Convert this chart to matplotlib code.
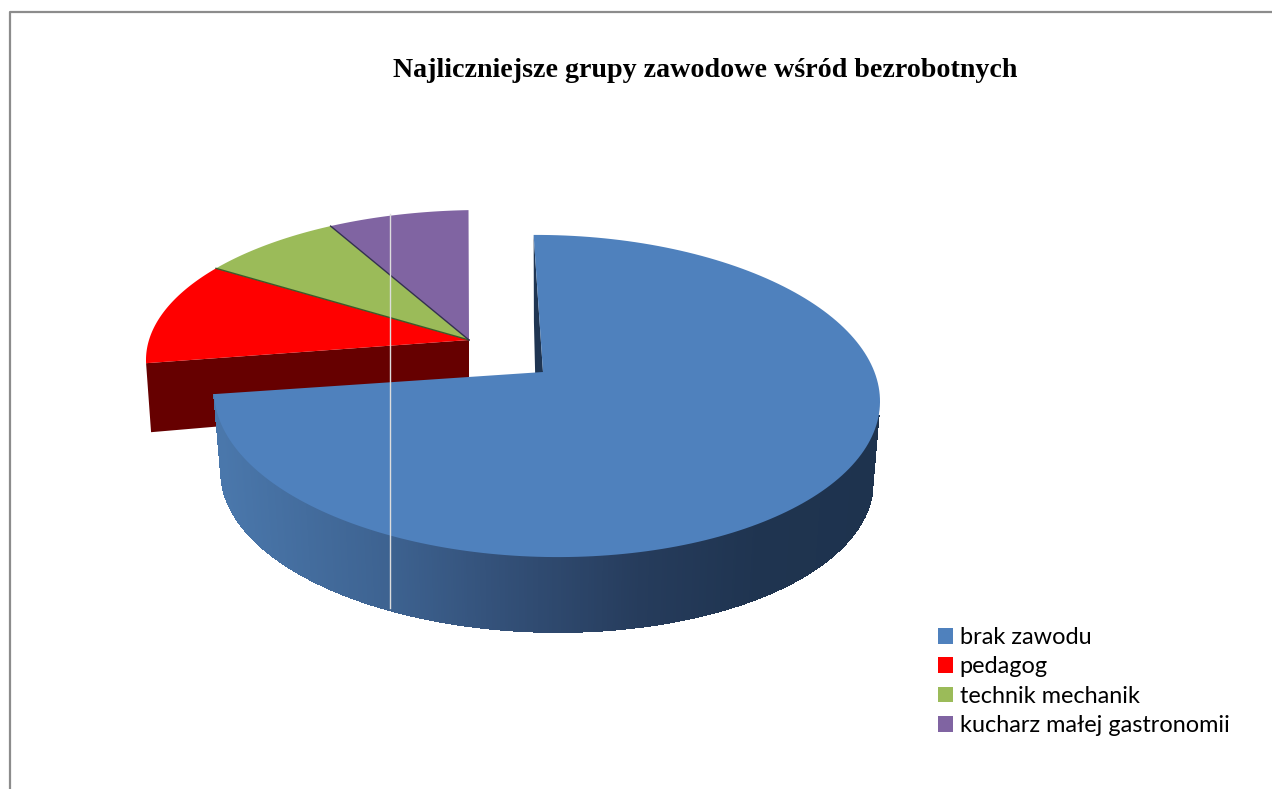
import numpy as np
import matplotlib
matplotlib.use('Agg')
import matplotlib.pyplot as plt
from matplotlib.patches import Polygon, Patch

# Dane wykresu
zawody = ['brak zawodu', 'pedagog', 'technik mechanik', 'kucharz małej gastronomii']
udzial = [75.3, 10.8, 7.1, 6.8]
kolory = ['#4F81BD', '#FF0000', '#9BBB59', '#8064A2']
tytul = 'Najliczniejsze grupy zawodowe wśród bezrobotnych'

kat_start = -2.3  # obrot kolowego wykresu

fig = plt.figure(figsize=(12.72, 7.89), dpi=100)
ax = fig.add_axes([0, 0, 1, 1])
ax.set_xlim(0, 1272)
ax.set_ylim(789, 0)
ax.axis('off')


def punkt(a, cx, cy, rx, ry, pochyl=0.0):
    a = np.radians(a)
    x = cx + rx * np.sin(a)
    y = cy - ry * np.cos(a) + pochyl * rx * np.sin(a)
    return np.column_stack([x, y])


def wycinek(a1, a2, srodek, elipsa, kolor, zorder, edge='none'):
    t = np.linspace(a1, a2, 200)
    pts = np.vstack([[srodek], punkt(t, *elipsa)])
    ax.add_patch(Polygon(pts, closed=True, facecolor=kolor, edgecolor=edge, lw=0.8, zorder=zorder))


# katy wycinkow liczone z udzialow
katy = kat_start + np.cumsum([0] + udzial) * 3.6

# wycinki odsuniete (czerwony, zielony, fioletowy)
el2 = (482, 360, 336, 150)
apex2 = (469, 340)
koniec = punkt(katy[1], *el2)[0]
sciana = [koniec, koniec + [5, 69], (apex2[0], apex2[1] + 65), apex2]
ax.add_patch(Polygon(sciana, closed=True, facecolor='#660000', edgecolor='none', zorder=1))
wycinek(katy[1], katy[2], apex2, el2, kolory[1], 2)
wycinek(katy[2], katy[3], apex2, el2, kolory[2], 2)
wycinek(katy[3], katy[4], apex2, el2, kolory[3], 2)
for k, c in zip([katy[2], katy[3]], ['#3d5a2a', '#33304f']):
    p = punkt(k, *el2)[0]
    ax.plot([p[0], apex2[0]], [p[1], apex2[1]], color=c, lw=1.0, zorder=3)

# duzy niebieski wycinek
el1 = (547, 396, 333, 161, 0.016)
el1d = (547, 477, 326, 155, 0.016)
apex1 = (543, 372)
apex1d = (537, 452)

# wewnetrzna sciana przy wierzcholku
g = punkt(katy[0], *el1)[0]
d = punkt(katy[0], *el1d)[0]
ax.add_patch(Polygon([g, d, apex1d, apex1], closed=True, facecolor='#1F3552', edgecolor='none', zorder=4))

# boczna sciana z gradientem
n = 360
t = np.linspace(95, katy[1], n)
gora = punkt(t, *el1)
dol = punkt(t, *el1d)
xp = [220, 390, 500, 640, 760, 880]
rp = [0x4A, 0x3D, 0x33, 0x26, 0x1F, 0x1E]
gp = [0x77, 0x62, 0x50, 0x3C, 0x34, 0x33]
bp = [0xAB, 0x90, 0x78, 0x5C, 0x50, 0x4E]
for i in range(n - 1):
    xm = (gora[i, 0] + gora[i + 1, 0]) / 2
    kol = (np.interp(xm, xp, rp) / 255, np.interp(xm, xp, gp) / 255, np.interp(xm, xp, bp) / 255)
    ax.add_patch(Polygon([gora[i], gora[i + 1], dol[i + 1], dol[i]], closed=True,
                         facecolor=kol, edgecolor=kol, lw=0.5, antialiased=False, zorder=5))

wycinek(katy[0], katy[1], apex1, el1, kolory[0], 6)

# jasna pionowa linia z oryginalu
ax.plot([390, 390], [214, 608], color='#DDDDDD', lw=1.0, zorder=7)

# ramka
ax.plot([10, 10, 1272], [789, 12, 12], color='#8C8C8C', lw=1.6, zorder=8)

ax.text(705, 70, tytul, ha='center', va='center', fontsize=20.2, fontweight='bold',
        family='Liberation Serif', color='black')

uchwyty = [Patch(facecolor=c, edgecolor='none', label=z) for c, z in zip(kolory, zawody)]
ax.legend(handles=uchwyty, loc='upper left', bbox_to_anchor=(938, 627), bbox_transform=ax.transData,
          frameon=False, prop={'family': 'Lato', 'size': 16.9}, handlelength=0.66, handleheight=0.66,
          handletextpad=0.26, labelspacing=0.355, borderpad=0, borderaxespad=0)

plt.savefig('out.png', dpi=100)
